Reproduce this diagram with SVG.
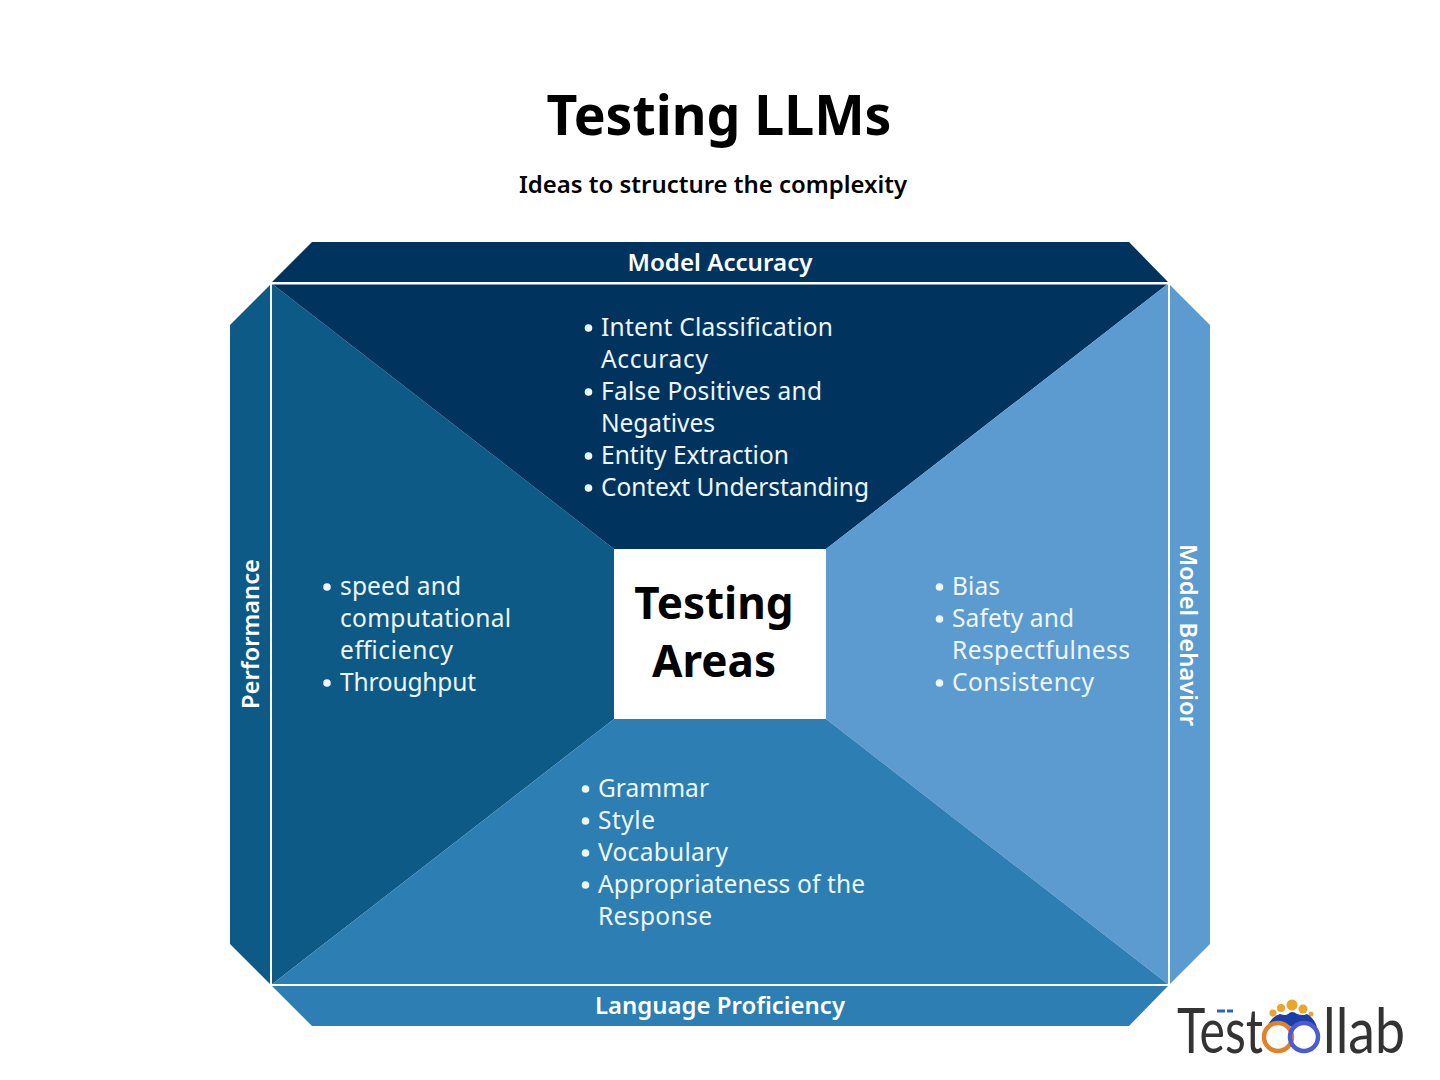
<svg xmlns="http://www.w3.org/2000/svg" width="1440" height="1080" viewBox="0 0 1440 1080">
<style>
text{font-family:"Noto Sans","Open Sans","Liberation Sans",sans-serif}
.b{font-size:24.5px;fill:#eef6fb}
.h{font-size:23.5px;font-weight:600;fill:#fff}
.c{font-size:44px;font-weight:700;fill:#000;text-anchor:middle}
.d{fill:#eef6fb}
.logo{font-family:"Lato","Open Sans",sans-serif;font-weight:400;font-size:61px;fill:#333}
.o{fill:#eaa52b}
</style>
<rect width="1440" height="1080" fill="#fff"/>
<g id="title">
<text x="719" y="135" text-anchor="middle" font-size="55" font-weight="700" fill="#000" textLength="345" lengthAdjust="spacingAndGlyphs">Testing LLMs</text>
<text x="713" y="193" text-anchor="middle" font-size="24" font-weight="600" fill="#000" textLength="388" lengthAdjust="spacingAndGlyphs">Ideas to structure the complexity</text>
</g>
<g id="band-top">
<polygon points="312,242 1129,242 1168,282 272,282" fill="#00345f"/>
<text class="h" x="720" y="271" text-anchor="middle" textLength="185" lengthAdjust="spacingAndGlyphs">Model Accuracy</text>
</g>
<g id="band-left">
<polygon points="270,285 270,984 230,944 230,325" fill="#0d5a87"/>
<text class="h" transform="translate(259,634) rotate(-90)" text-anchor="middle" textLength="150" lengthAdjust="spacingAndGlyphs">Performance</text>
</g>
<g id="band-right">
<polygon points="1170,285 1210,325 1210,944 1170,984" fill="#5b9bd0"/>
<text class="h" transform="translate(1180,635) rotate(90)" text-anchor="middle" textLength="182" lengthAdjust="spacingAndGlyphs">Model Behavior</text>
</g>
<g id="band-bottom">
<polygon points="272,986 1168,986 1129,1026 312,1026" fill="#2d7eb3"/>
<text class="h" x="720" y="1014" text-anchor="middle" textLength="250" lengthAdjust="spacingAndGlyphs">Language Proficiency</text>
</g>
<g id="panel-left"><polygon points="271,283 614,549 614,719 271,985" fill="#0d5a87"/>
<text class="b" x="340" y="595" textLength="121">speed and</text><text class="b" x="340" y="627" textLength="171">computational</text><text class="b" x="340" y="659" textLength="113">efficiency</text><text class="b" x="340" y="691" textLength="136">Throughput</text>
<circle class="d" cx="327" cy="587" r="3.8"/><circle class="d" cx="327" cy="683" r="3.8"/></g>
<g id="panel-top"><polygon points="271,283 1169,283 826,549 614,549" fill="#00345f"/>
<text class="b" x="601" y="336" textLength="232">Intent Classification</text><text class="b" x="601" y="368" textLength="107">Accuracy</text><text class="b" x="601" y="400" textLength="221">False Positives and</text><text class="b" x="601" y="432" textLength="114">Negatives</text><text class="b" x="601" y="464" textLength="188">Entity Extraction</text><text class="b" x="601" y="496" textLength="268">Context Understanding</text>
<circle class="d" cx="588.500" cy="328" r="3.8"/><circle class="d" cx="588.500" cy="392" r="3.8"/><circle class="d" cx="588.500" cy="456" r="3.8"/><circle class="d" cx="588.500" cy="488" r="3.8"/></g>
<g id="panel-right"><polygon points="1169,283 1169,985 826,719 826,549" fill="#5b9bd0"/>
<text class="b" x="952" y="595" textLength="48">Bias</text><text class="b" x="952" y="627" textLength="122">Safety and</text><text class="b" x="952" y="659" textLength="178">Respectfulness</text><text class="b" x="952" y="691" textLength="142">Consistency</text>
<circle class="d" cx="939.500" cy="587" r="3.8"/><circle class="d" cx="939.500" cy="619" r="3.8"/><circle class="d" cx="939.500" cy="683" r="3.8"/></g>
<g id="panel-bottom"><polygon points="271,985 614,719 826,719 1169,985" fill="#2d7eb3"/>
<text class="b" x="598" y="797" textLength="111">Grammar</text><text class="b" x="598" y="829" textLength="57">Style</text><text class="b" x="598" y="861" textLength="130">Vocabulary</text><text class="b" x="598" y="893" textLength="267">Appropriateness of the</text><text class="b" x="598" y="925" textLength="114">Response</text>
<circle class="d" cx="585.500" cy="789" r="3.8"/><circle class="d" cx="585.500" cy="821" r="3.8"/><circle class="d" cx="585.500" cy="853" r="3.8"/><circle class="d" cx="585.500" cy="885" r="3.8"/></g>
<g id="connectors"><rect x="271" y="283.500" width="898" height="701.500" fill="none" stroke="#fff" stroke-width="2"/></g>
<g id="center"><rect x="614" y="549" width="212" height="170" fill="#fff"/>
<text class="c" x="714" y="619">Testing</text><text class="c" x="714" y="677">Areas</text></g>
<g id="logo">
<text class="logo" x="1177" y="1053" textLength="86" lengthAdjust="spacingAndGlyphs">Test</text>
<text class="logo" x="1323" y="1053" textLength="82" lengthAdjust="spacingAndGlyphs">llab</text>
<rect x="1217" y="1009.500" width="8" height="3" fill="#2a63c0"/><rect x="1227" y="1009.500" width="6" height="3" fill="#2a63c0"/>
<circle class="o" cx="1273" cy="1013" r="3.500"/><circle class="o" cx="1281" cy="1008" r="4"/><circle class="o" cx="1292" cy="1005" r="5.500"/><circle class="o" cx="1303" cy="1009" r="4.500"/><circle class="o" cx="1311" cy="1014" r="2.500"/>
<path d="M1267 1027Q1272 1016 1280 1014Q1286 1016 1288 1014Q1292 1010 1297 1014Q1303 1016 1307 1014Q1314 1018 1317 1027Q1304 1020 1292 1027Q1280 1020 1267 1027Z" fill="#1a3fa8"/>
<circle cx="1278" cy="1037" r="14" fill="none" stroke="#e0812c" stroke-width="4.500"/>
<circle cx="1304" cy="1037" r="14" fill="none" stroke="#4c5bd0" stroke-width="4.500"/>
</g>
</svg>
